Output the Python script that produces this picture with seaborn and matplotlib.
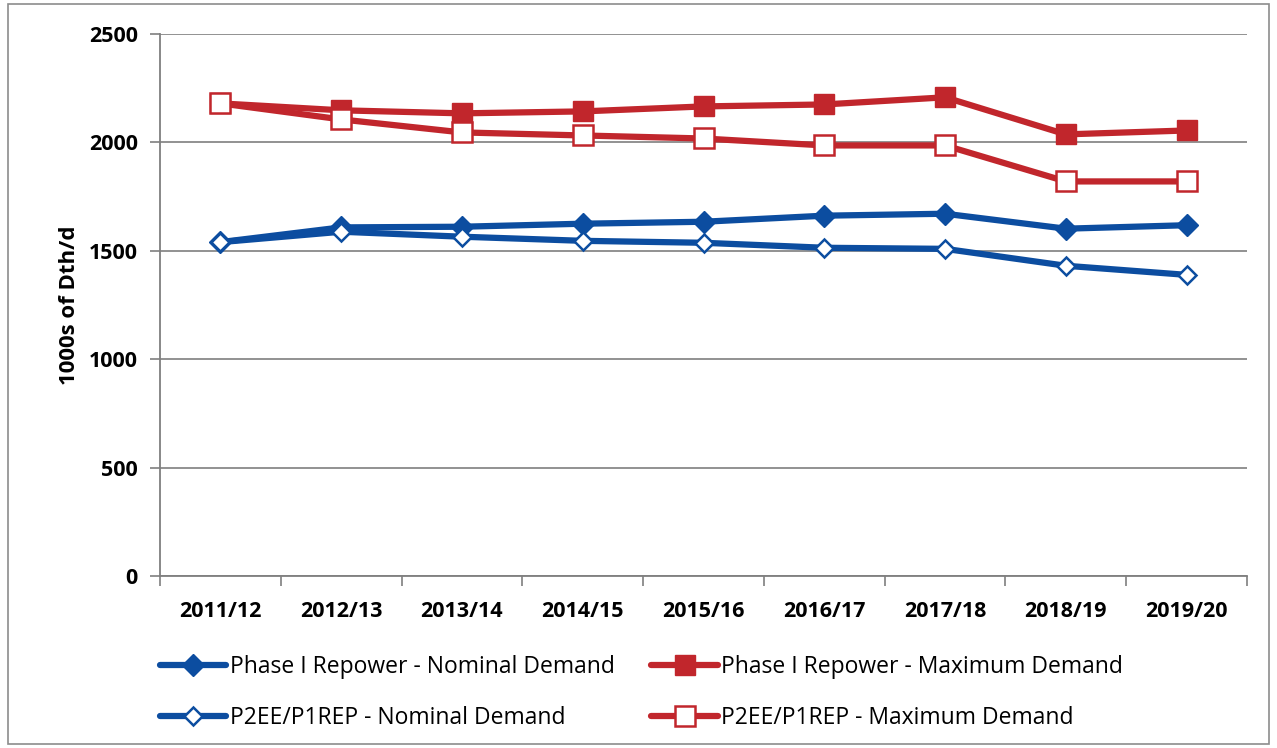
import numpy as np
import pandas as pd
import matplotlib
matplotlib.use('Agg')
import matplotlib.pyplot as plt
import matplotlib.patches as mpatches
from matplotlib.ticker import FixedLocator
import seaborn as sns

# data (1000s of Dth/d)
years = ['2011/12', '2012/13', '2013/14', '2014/15', '2015/16',
         '2016/17', '2017/18', '2018/19', '2019/20']
p1_nominal = [1540, 1608, 1611, 1625, 1634, 1662, 1671, 1602, 1618]
p1_maximum = [2180, 2148, 2134, 2143, 2166, 2175, 2208, 2037, 2055]
p2_nominal = [1540, 1588, 1565, 1546, 1537, 1514, 1509, 1431, 1389]
p2_maximum = [2180, 2106, 2046, 2032, 2018, 1986, 1986, 1820, 1820]

RED = '#C1262C'
BLUE = '#0C4DA0'

sns.set_style('white')
plt.rcParams['font.family'] = ['Open Sans', 'DejaVu Sans']
plt.rcParams['text.color'] = 'black'

fig = plt.figure(figsize=(12.77, 7.48), dpi=100)
ax = fig.add_axes([160 / 1277, 1 - 576 / 748, 1087 / 1277, 542 / 748])

series = [
    ('Phase I Repower - Nominal Demand', p1_nominal, BLUE, 'D', True, 11.5),
    ('P2EE/P1REP - Nominal Demand', p2_nominal, BLUE, 'D', False, 9),
    ('Phase I Repower - Maximum Demand', p1_maximum, RED, 's', True, 14.5),
    ('P2EE/P1REP - Maximum Demand', p2_maximum, RED, 's', False, 14.5),
]

x_pos = np.arange(len(years))
handles = []
for name, vals, col, mk, filled, ms in series:
    sns.lineplot(x=x_pos, y=vals, ax=ax, color=col, linewidth=4.5,
                 marker=mk, markersize=ms,
                 markerfacecolor=col if filled else 'white',
                 markeredgecolor=col, markeredgewidth=1.8 if not filled else 1,
                 label=name, legend=False, zorder=3)
    handles.append(ax.lines[-1])

ax.set_xlim(-0.5, len(years) - 0.5)
ax.set_ylim(0, 2500)
ax.set_yticks([0, 500, 1000, 1500, 2000, 2500])
ax.set_yticklabels(['0', '500', '1000', '1500', '2000', '2500'],
                   fontsize=15.5, fontweight='bold', color='black')
ax.set_xticks(x_pos)
ax.set_xticklabels(years, fontsize=15.5, fontweight='bold', color='black')
ax.xaxis.set_minor_locator(FixedLocator(np.arange(-0.5, len(years), 1)))
ax.tick_params(axis='x', which='major', bottom=False, length=0, pad=18)
ax.tick_params(axis='x', which='minor', bottom=True, length=7, width=1.2,
               color='#7F7F7F', direction='out')
ax.tick_params(axis='y', length=7, width=1.2, color='#7F7F7F', direction='out',
               left=True, pad=9)
ax.set_ylabel('1000s of Dth/d', fontsize=16, fontweight='bold', labelpad=6,
              color='black')
ax.set_xlabel('')

ax.grid(axis='y', color='#7F7F7F', linewidth=1.2, zorder=0)
ax.set_axisbelow(True)
for side in ['top', 'right']:
    ax.spines[side].set_visible(False)
for side in ['left', 'bottom']:
    ax.spines[side].set_color('#7F7F7F')
    ax.spines[side].set_linewidth(1.3)

leg = fig.legend(handles=handles, labels=[s[0] for s in series], ncol=2,
                 loc='upper left', bbox_to_anchor=(160 / 1277, 1 - 655 / 748),
                 frameon=False, fontsize=16.5, handlelength=2.9,
                 handletextpad=0.15, columnspacing=1.6, labelspacing=1.2,
                 borderaxespad=0, borderpad=0)
for t in leg.get_texts():
    t.set_color('black')

# outer chart border
fig.patches.append(mpatches.Rectangle((0.006, 0.006), 0.988, 0.988,
                                      transform=fig.transFigure, fill=False,
                                      edgecolor='#8C8C8C', linewidth=1.2))

plt.savefig('out.png', dpi=100)
